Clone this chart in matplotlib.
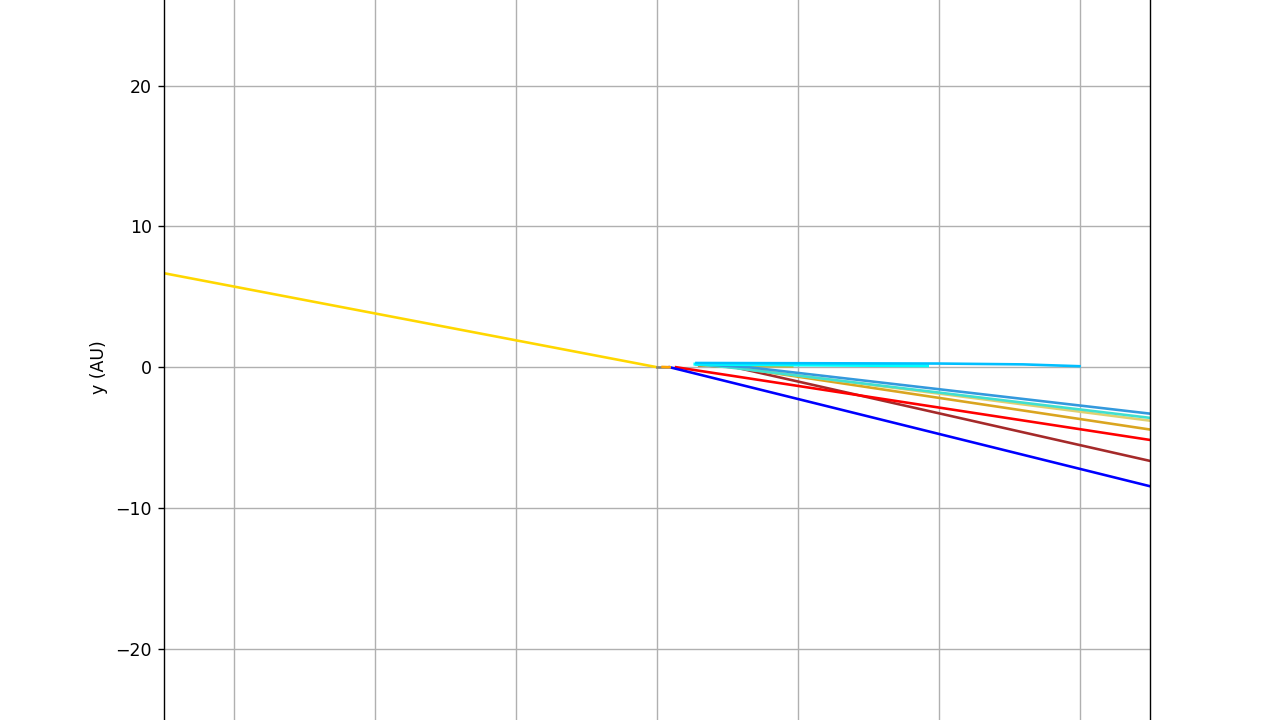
import matplotlib
matplotlib.use("Agg")
import matplotlib.pyplot as plt

# Trajectories (x, y in AU)
sun_x = [-35.0, 0.0]
sun_y = [6.68, 0.0]

mercury_x = [0.0, 0.7]
mercury_y = [0.0, 0.0]

venus_x = [0.4, 0.9]
venus_y = [0.02, 0.0]

earth_x = [0.9, 35.0]
earth_y = [0.0, -8.46]

mars_x = [1.35, 35.0]
mars_y = [0.0, -5.17]

brown_x = [3.0, 5.5, 35.0]
brown_y = [0.15, 0.0, -6.66]

goldenrod_x = [3.0, 5.5, 35.0]
goldenrod_y = [0.15, 0.0, -4.43]

khaki_x = [3.0, 5.0, 35.0]
khaki_y = [0.18, 0.05, -3.8]

turquoise_x = [2.8, 5.0, 35.0]
turquoise_y = [0.2, 0.0, -3.6]

steel_x = [2.8, 6.5, 35.0]
steel_y = [0.22, 0.0, -3.3]

olive_x = [3.0, 9.6]
olive_y = [0.12, 0.05]

cyan_x = [2.7, 10.0, 19.2]
cyan_y = [0.22, 0.16, 0.1]

sky_x = [2.8, 20.0, 26.0, 30.0]
sky_y = [0.3, 0.26, 0.2, 0.07]

x_ticks = [-30, -20, -10, 0, 10, 20, 30]
y_ticks = [-20, -10, 0, 10, 20]

# drawn at 125 dpi so fonts and lines come out a bit heavier
fig = plt.figure(figsize=(10.24, 5.76), dpi=125)
ax = fig.add_axes([164 / 1280, -0.194, 986 / 1280, 1.368])

ax.plot(sun_x, sun_y, color="gold", lw=1.5)
ax.plot(olive_x, olive_y, color="#c8b040", lw=1.5)
ax.plot(brown_x, brown_y, color="brown", lw=1.5)
ax.plot(goldenrod_x, goldenrod_y, color="goldenrod", lw=1.5)
ax.plot(khaki_x, khaki_y, color="#e0d070", lw=1.5)
ax.plot(mars_x, mars_y, color="red", lw=1.5)
ax.plot(earth_x, earth_y, color="blue", lw=1.5)
ax.plot(turquoise_x, turquoise_y, color="turquoise", lw=1.5)
ax.plot(steel_x, steel_y, color="#3399dd", lw=1.5)
ax.plot(cyan_x, cyan_y, color="cyan", lw=1.8)
ax.plot(sky_x, sky_y, color="deepskyblue", lw=1.5)
ax.plot(mercury_x, mercury_y, color="gray", lw=1.5)
ax.plot(venus_x, venus_y, color="orange", lw=1.5)

ax.set_xlim(-35, 35)
ax.set_ylim(-35, 35)
ax.set_xticks(x_ticks)
ax.set_yticks(y_ticks)
# x tick labels fall below the visible canvas in the reference
ax.tick_params(axis="x", labelbottom=False)
ax.set_ylabel("y (AU)")
ax.grid(True)

fig.savefig("out.png", dpi=125)
